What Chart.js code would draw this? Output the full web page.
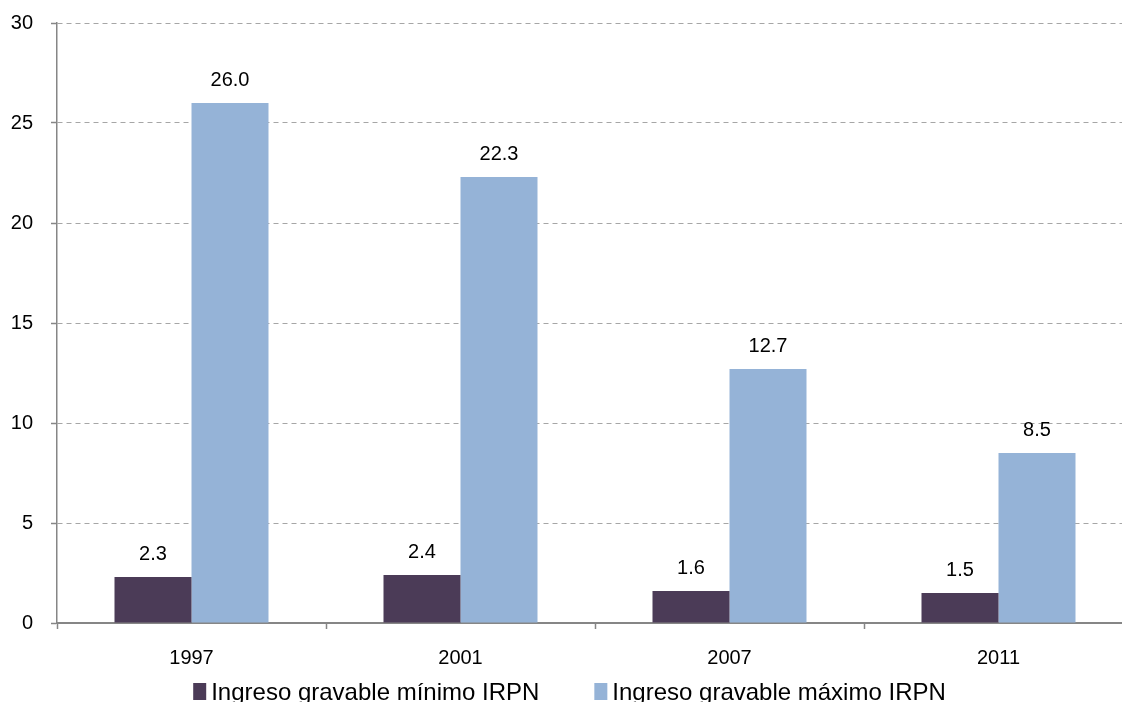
<!DOCTYPE html>
<html>
<head>
<meta charset="utf-8">
<script src="https://cdn.jsdelivr.net/npm/chart.js@4/dist/chart.umd.min.js"></script>
<style>
  html, body { margin: 0; padding: 0; background: #fff; overflow: hidden; }
  #wrap { width: 1140px; height: 702px; position: relative; }
</style>
</head>
<body>
<div id="wrap"><canvas id="c" width="1140" height="702"></canvas></div>
<script>
const categories = ['1997', '2001', '2007', '2011'];
const minimoValues = [2.3, 2.4, 1.6, 1.5];
const maximoValues = [26.0, 22.3, 12.7, 8.5];
const seriesNames = ['Ingreso gravable mínimo IRPN', 'Ingreso gravable máximo IRPN'];
const yTicks = [0, 5, 10, 15, 20, 25, 30];

const FONT = '"Liberation Sans", Arial, sans-serif';

const valueLabels = {
  id: 'valueLabels',
  afterDatasetsDraw(chart) {
    const ctx = chart.ctx;
    ctx.save();
    ctx.font = '20px ' + FONT;
    ctx.fillStyle = '#000';
    ctx.textAlign = 'center';
    ctx.textBaseline = 'alphabetic';
    chart.data.datasets.forEach((ds, i) => {
      const meta = chart.getDatasetMeta(i);
      meta.data.forEach((el, j) => {
        ctx.fillText(ds.data[j].toFixed(1), el.x, el.y - 17);
      });
    });
    ctx.restore();
  }
};

const bottomLegend = {
  id: 'bottomLegend',
  afterDraw(chart) {
    const ctx = chart.ctx;
    ctx.save();
    ctx.font = '24px ' + FONT;
    ctx.textBaseline = 'alphabetic';
    ctx.textAlign = 'left';
    const box = 13, boxGap = 5, itemGap = 55;
    const widths = chart.data.datasets.map(ds => ctx.measureText(ds.label).width);
    let total = 0;
    widths.forEach((w, i) => { total += box + boxGap + w + (i ? itemGap : 0); });
    let x = 569.5 - total / 2;
    const baseline = 700;
    chart.data.datasets.forEach((ds, i) => {
      ctx.fillStyle = ds.backgroundColor;
      ctx.fillRect(x, baseline - 17, box, 17);
      x += box + boxGap;
      ctx.fillStyle = '#000';
      ctx.fillText(ds.label, x, baseline);
      x += widths[i] + itemGap;
    });
    ctx.restore();
  }
};

new Chart(document.getElementById('c'), {
  type: 'bar',
  data: {
    labels: categories,
    datasets: [
      { label: seriesNames[0], data: minimoValues, backgroundColor: '#4B3B57',
        categoryPercentage: 0.5725, barPercentage: 1.0 },
      { label: seriesNames[1], data: maximoValues, backgroundColor: '#95B3D7',
        categoryPercentage: 0.5725, barPercentage: 1.0 }
    ]
  },
  options: {
    responsive: false,
    animation: false,
    layout: { padding: { top: 23, right: 7, left: 0, bottom: 0 } },
    plugins: {
      legend: { display: false },
      tooltip: { enabled: false }
    },
    scales: {
      x: {
        offset: true,
        grid: { offset: true, drawOnChartArea: false, drawTicks: true, tickLength: 6,
                tickColor: '#868686', tickWidth: 1.5 },
        border: { color: '#868686', width: 2 },
        ticks: { color: '#000', font: { size: 20, family: FONT }, padding: 17, maxRotation: 0 },
        afterFit(scale) { scale.height = 79; scale.paddingLeft = 0; scale.paddingRight = 0; }
      },
      y: {
        min: 0, max: 30,
        afterBuildTicks(scale) { scale.ticks = yTicks.map(v => ({ value: v })); },
        grid: { color: '#A6A6A6', lineWidth: 1, tickColor: '#868686', tickLength: 6,
                tickWidth: 1.5, tickBorderDash: [] },
        border: { color: '#868686', width: 1.5, dash: [5, 4] },
        ticks: { color: '#000', font: { size: 20, family: FONT }, padding: 18 },
        afterFit(scale) { scale.width = 57; scale.paddingTop = 0; scale.paddingBottom = 0; }
      }
    }
  },
  plugins: [valueLabels, bottomLegend]
});
</script>
</body>
</html>
